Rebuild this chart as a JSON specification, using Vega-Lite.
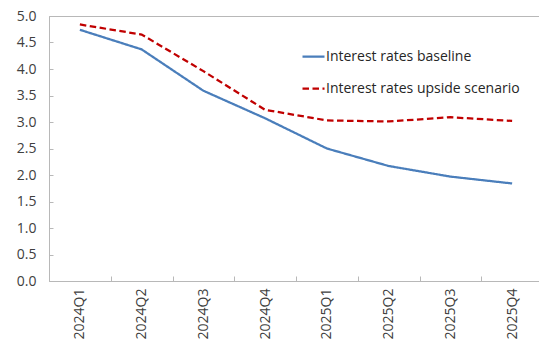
{
  "$schema": "https://vega.github.io/schema/vega-lite/v6.json",
  "autosize": {"type": "none"},
  "padding": {"left": 49, "top": 16, "right": 0, "bottom": 64},
  "width": 494,
  "height": 265,
  "background": "white",
  "config": {
    "font": "Open Sans",
    "view": {"stroke": "#B8B8B8", "strokeWidth": 1},
    "axis": {
      "grid": false,
      "domain": true,
      "domainColor": "#B8B8B8",
      "domainWidth": 1,
      "tickColor": "#B8B8B8",
      "labelColor": "#404040",
      "labelFont": "Open Sans",
      "labelFontSize": 14,
      "title": null
    }
  },
  "data": {
    "values": [
      {"quarter": "2024Q1", "series": "Interest rates baseline", "rate": 4.74},
      {"quarter": "2024Q2", "series": "Interest rates baseline", "rate": 4.37},
      {"quarter": "2024Q3", "series": "Interest rates baseline", "rate": 3.59},
      {"quarter": "2024Q4", "series": "Interest rates baseline", "rate": 3.07},
      {"quarter": "2025Q1", "series": "Interest rates baseline", "rate": 2.5},
      {"quarter": "2025Q2", "series": "Interest rates baseline", "rate": 2.17},
      {"quarter": "2025Q3", "series": "Interest rates baseline", "rate": 1.97},
      {"quarter": "2025Q4", "series": "Interest rates baseline", "rate": 1.84},
      {"quarter": "2024Q1", "series": "Interest rates upside scenario", "rate": 4.84},
      {"quarter": "2024Q2", "series": "Interest rates upside scenario", "rate": 4.65},
      {"quarter": "2024Q3", "series": "Interest rates upside scenario", "rate": 3.96},
      {"quarter": "2024Q4", "series": "Interest rates upside scenario", "rate": 3.23},
      {"quarter": "2025Q1", "series": "Interest rates upside scenario", "rate": 3.03},
      {"quarter": "2025Q2", "series": "Interest rates upside scenario", "rate": 3.01},
      {"quarter": "2025Q3", "series": "Interest rates upside scenario", "rate": 3.09},
      {"quarter": "2025Q4", "series": "Interest rates upside scenario", "rate": 3.02}
    ]
  },
  "mark": {"type": "line", "strokeWidth": 2.25},
  "encoding": {
    "x": {
      "field": "quarter",
      "type": "ordinal",
      "scale": {"paddingInner": 0, "paddingOuter": 0},
      "axis": {
        "labelAngle": -90,
        "labelAlign": "right",
        "labelBaseline": "middle",
        "labelPadding": 12,
        "tickBand": "extent",
        "tickSize": -5,
        "ticks": true
      }
    },
    "y": {
      "field": "rate",
      "type": "quantitative",
      "scale": {"domain": [0, 5], "nice": false},
      "axis": {
        "values": [0, 0.5, 1, 1.5, 2, 2.5, 3, 3.5, 4, 4.5, 5],
        "format": ".1f",
        "tickSize": -4,
        "labelPadding": 17
      }
    },
    "color": {
      "field": "series",
      "type": "nominal",
      "scale": {
        "domain": ["Interest rates baseline", "Interest rates upside scenario"],
        "range": ["#4A7EBB", "#C00000"]
      },
      "legend": {
        "title": null,
        "orient": "none",
        "legendX": 252,
        "legendY": 28,
        "symbolType": "stroke",
        "symbolSize": 484,
        "symbolStrokeWidth": 2.25,
        "labelFontSize": 14,
        "labelColor": "#262626",
        "labelLimit": 300,
        "labelOffset": 0,
        "rowPadding": 12
      }
    },
    "strokeDash": {
      "field": "series",
      "type": "nominal",
      "scale": {
        "domain": ["Interest rates baseline", "Interest rates upside scenario"],
        "range": [[1, 0], [6.5, 3.5]]
      },
      "legend": null
    }
  }
}
